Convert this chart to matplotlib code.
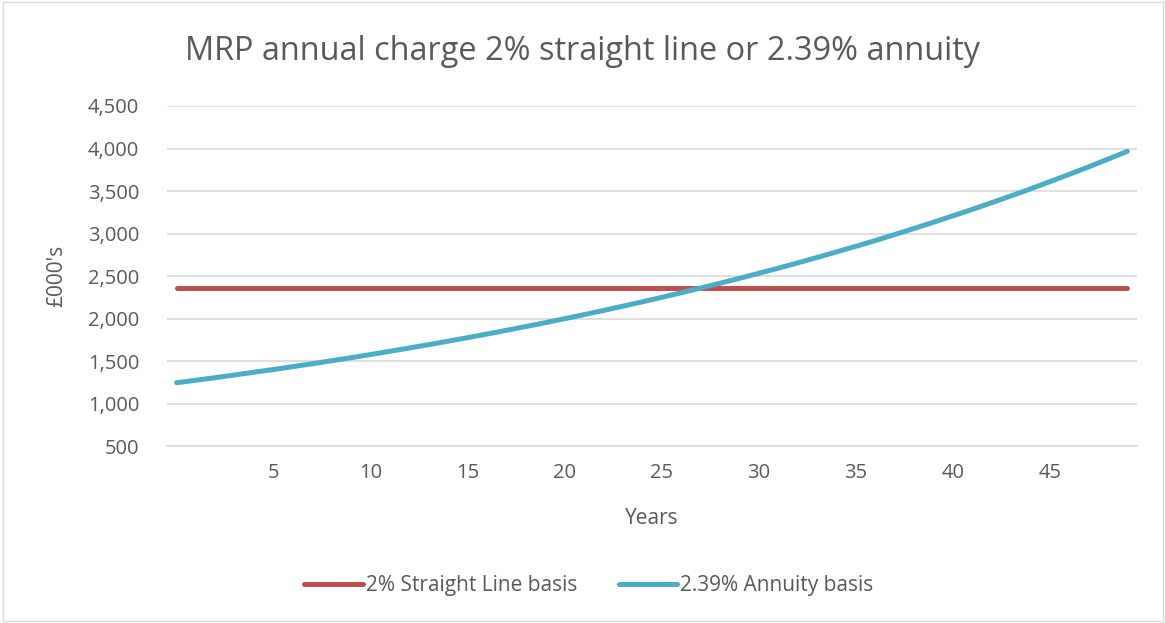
import matplotlib
matplotlib.use("Agg")
import matplotlib.pyplot as plt
from matplotlib.patches import Rectangle
from matplotlib.ticker import FuncFormatter

plt.rcParams['font.family'] = ['Open Sans', 'DejaVu Sans']

# years 0..49 and the annual MRP charge (£000's)
years = list(range(50))
straight_line = [2361] * 50
annuity = [1247, 1277, 1307, 1339, 1371, 1403, 1437, 1471, 1506, 1542,
           1579, 1617, 1656, 1695, 1736, 1777, 1820, 1863, 1908, 1953,
           2000, 2048, 2097, 2147, 2198, 2251, 2304, 2360, 2416, 2474,
           2533, 2593, 2655, 2719, 2784, 2850, 2918, 2988, 3060, 3133,
           3208, 3284, 3363, 3443, 3525, 3610, 3696, 3784, 3875, 3967]
series_names = ['2% Straight Line basis', '2.39% Annuity basis']
x_ticks = [5, 10, 15, 20, 25, 30, 35, 40, 45]
y_ticks = [500, 1000, 1500, 2000, 2500, 3000, 3500, 4000, 4500]

grey = '#595959'
red = '#C0504D'
blue = '#4BACC6'

W, H = 1165, 623
fig = plt.figure(figsize=(W / 100, H / 100), dpi=100)
fig.patches.append(Rectangle((0.003, 0.004), 0.995, 0.992, transform=fig.transFigure,
                             fill=False, edgecolor='#D9D9D9', linewidth=1))
ax = fig.add_axes([167 / W, 1 - 446.3 / H, (1137 - 167) / W, (446.3 - 106) / H])

ax.plot(years, straight_line, color=red, lw=3.6, solid_capstyle='round', label=series_names[0])
ax.plot(years, annuity, color=blue, lw=3.6, solid_capstyle='round', label=series_names[1])

ax.set_xlim(-0.5, 49.5)
ax.set_ylim(500, 4500)
ax.set_xticks(x_ticks)
ax.set_yticks(y_ticks)
ax.yaxis.set_major_formatter(FuncFormatter(lambda v, p: f'{v:,.0f}'))
ax.tick_params(length=0, labelsize=14.5, labelcolor=grey)
ax.tick_params(axis='x', pad=12)
ax.tick_params(axis='y', pad=20)
ax.grid(axis='y', color='#D9D9D9', lw=1.2)
ax.set_axisbelow(True)
for s in ['top', 'right', 'left']:
    ax.spines[s].set_visible(False)
ax.spines['bottom'].set_color('#D9D9D9')
ax.spines['bottom'].set_linewidth(1.2)

ax.set_xlabel('Years', fontsize=15, color=grey)
ax.xaxis.set_label_coords(652 / W, 1 - 518 / H, transform=fig.transFigure)
ax.xaxis.label.set_va('center')
ax.set_ylabel("£000's", fontsize=15, color=grey)
ax.yaxis.set_label_coords(57 / W, 1 - 276 / H, transform=fig.transFigure)
ax.yaxis.label.set_va('center')

fig.text(0.5, 1 - 52 / H, 'MRP annual charge 2% straight line or 2.39% annuity',
         ha='center', va='center', fontsize=23.4, color=grey)

fig.legend(loc='center', bbox_to_anchor=(589 / W, 1 - 586 / H), ncol=2, frameon=False,
           fontsize=15, labelcolor=grey, handlelength=2.8, handletextpad=0.15,
           columnspacing=2.0)

fig.savefig('out.png', dpi=100)
